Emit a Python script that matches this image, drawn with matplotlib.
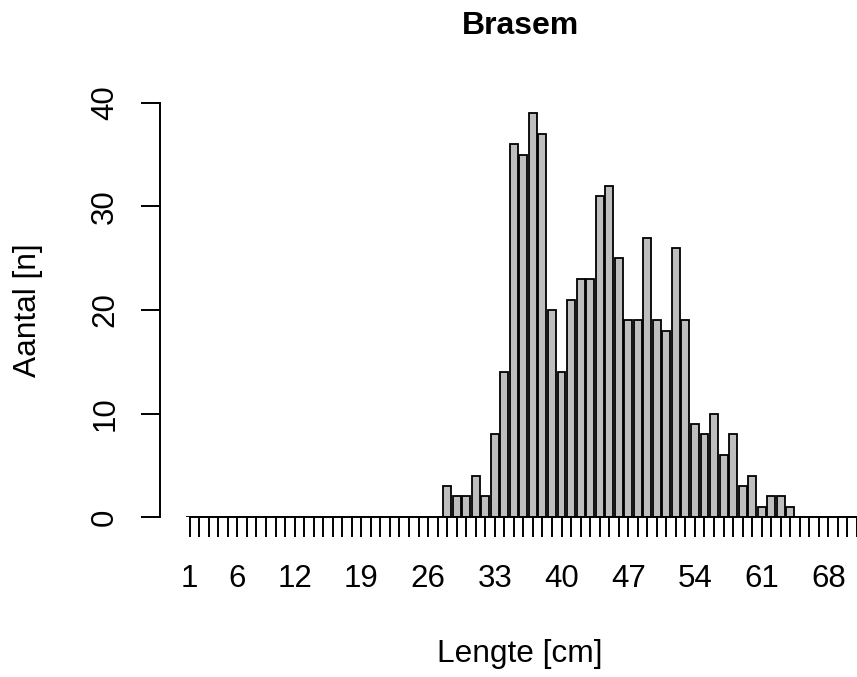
import numpy as np
import matplotlib
matplotlib.use("Agg")
import matplotlib.pyplot as plt

plt.rcParams['font.family'] = ['Liberation Sans', 'DejaVu Sans']

# lengths 1..71 cm, counts per cm class
lengte = np.arange(1, 72)
aantal = np.zeros(len(lengte), dtype=int)
gevangen = {28: 3, 29: 2, 30: 2, 31: 4, 32: 2, 33: 8, 34: 14, 35: 36, 36: 35,
            37: 39, 38: 37, 39: 20, 40: 14, 41: 21, 42: 23, 43: 23, 44: 31,
            45: 32, 46: 25, 47: 19, 48: 19, 49: 27, 50: 19, 51: 18, 52: 26,
            53: 19, 54: 9, 55: 8, 56: 10, 57: 6, 58: 8, 59: 3, 60: 4, 61: 1,
            62: 2, 63: 2, 64: 1}
for k, v in gevangen.items():
    aantal[k - 1] = v

shown_labels = [1, 6, 12, 19, 26, 33, 40, 47, 54, 61, 68]
y_ticks = [0, 10, 20, 30, 40]

W, H = 857, 677
fig = plt.figure(figsize=(W / 100, H / 100), dpi=100)
ax = fig.add_axes([160 / W, (H - 517) / H, (W - 160) / W, (517 - 103) / H])

ax.bar(lengte, aantal, width=0.833, color="#BEBEBE", edgecolor="black", linewidth=1.3)

x0 = 1 - (190 - 160) / 9.607
x1 = 1 + (W - 190) / 9.607
ax.set_xlim(x0, x1)
ax.set_ylim(0, 40)

for s in ["top", "right"]:
    ax.spines[s].set_visible(False)
ax.spines["left"].set_bounds(0, 40)
ax.spines["bottom"].set_bounds(1, 71)
ax.spines["left"].set_linewidth(1.4)
ax.spines["bottom"].set_linewidth(1.4)

ax.set_xticks(lengte)
ax.set_xticklabels([str(v) if v in shown_labels else "" for v in lengte])
ax.set_yticks(y_ticks)
ax.set_yticklabels([str(v) for v in y_ticks], rotation=90, va="center")

ax.tick_params(axis="x", length=14.4, width=1.4, pad=19.5, labelsize=22.5)
ax.tick_params(axis="y", length=13.7, width=1.4, pad=15, labelsize=22.5)

fig.text(520 / W, 1 - 26 / H, "Brasem", ha="center", va="center",
         fontsize=23, fontweight="bold")
fig.text(520 / W, 1 - 654 / H, "Lengte [cm]", ha="center", va="center", fontsize=22.8)
fig.text(28 / W, 1 - 310 / H, "Aantal [n]", ha="center", va="center",
         rotation=90, fontsize=22.8)

fig.savefig("out.png", dpi=100)
